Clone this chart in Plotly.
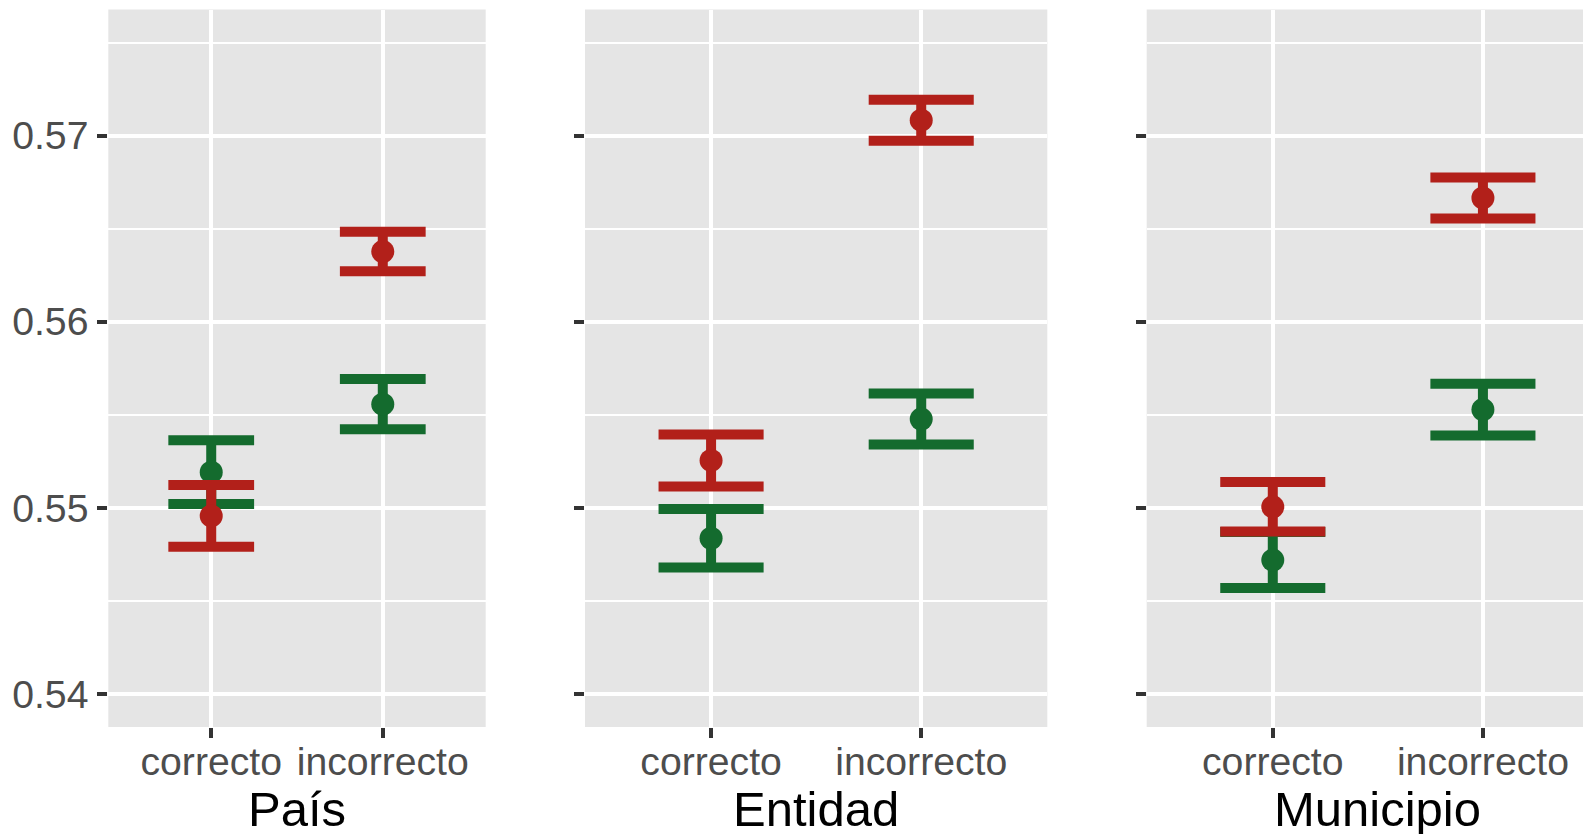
import plotly.graph_objects as go

# ---- data ----
categories = ["correcto", "incorrecto"]
panels = ["País", "Entidad", "Municipio"]

green_mean = {
    "País": [0.55192, 0.55557],
    "Entidad": [0.54837, 0.55477],
    "Municipio": [0.54720, 0.55528],
}
green_err = {
    "País": [0.00171, 0.00135],
    "Entidad": [0.00157, 0.00137],
    "Municipio": [0.00150, 0.00139],
}
red_mean = {
    "País": [0.54957, 0.56377],
    "Entidad": [0.55255, 0.57083],
    "Municipio": [0.55006, 0.56665],
}
red_err = {
    "País": [0.00166, 0.00106],
    "Entidad": [0.00140, 0.00110],
    "Municipio": [0.00133, 0.00110],
}
y_ticks = [0.54, 0.55, 0.56, 0.57]
y_ticktext = ["0.54", "0.55", "0.56", "0.57"]

# ---- style ----
W, H = 1591, 834
OFF = 8  # page body margin offset
RED = "#B2201A"
GREEN = "#146B2E"
PANEL_BG = "#E5E5E5"
FONT = "Liberation Sans, Arial, Helvetica, sans-serif"

# panel pixel extents in page coords (left, right)
px_extent = [(108.3, 485.7), (585.0, 1047.3), (1146.7, W + OFF)]
full_width = [377.4, 462.3, 462.3]
y_top, y_bot = 9.6 - OFF, 727.0 - OFF
y_range = [0.53823, 0.57677]

fig = go.Figure()

for i, p in enumerate(panels):
    xa = "x" if i == 0 else f"x{i+1}"
    ya = "y" if i == 0 else f"y{i+1}"
    unit_px = full_width[i] / 2.2
    cap = 0.25 * unit_px
    for mean, err, col in ((green_mean, green_err, GREEN), (red_mean, red_err, RED)):
        fig.add_trace(go.Scatter(
            x=categories, y=mean[p], xaxis=xa, yaxis=ya, mode="markers",
            marker=dict(color=col, size=23, line=dict(width=0)),
            error_y=dict(type="data", array=err[p], color=col, thickness=10, width=cap),
            showlegend=False, hoverinfo="skip",
        ))

    l, r = px_extent[i]
    l, r = l - OFF, r - OFF
    xr_end = -0.6 + (r - l) / unit_px
    axis_common = dict(showline=False, zeroline=False, ticks="outside", ticklen=10,
                       tickwidth=4, tickcolor="#333333",
                       gridcolor="white", gridwidth=3.5)
    fig.layout[("xaxis" if i == 0 else f"xaxis{i+1}")] = dict(
        axis_common, domain=[l / W, r / W], anchor=ya, type="category",
        categoryorder="array", categoryarray=categories, range=[-0.6, xr_end],
        tickfont=dict(family=FONT, size=39.2, color="#4D4D4D"), ticklabelstandoff=-10,
    )
    fig.layout[("yaxis" if i == 0 else f"yaxis{i+1}")] = dict(
        axis_common, domain=[1 - y_bot / H, 1 - y_top / H], anchor=xa, range=y_range,
        tickvals=y_ticks, ticktext=y_ticktext, showticklabels=(i == 0),
        tickfont=dict(family=FONT, size=39.2, color="#4D4D4D"), ticklabelstandoff=1,
        minor=dict(tickvals=[0.545, 0.555, 0.565, 0.575], showgrid=True,
                   gridcolor="white", gridwidth=1.8, ticks=""),
    )
    fig.add_annotation(text=p, x=(l + full_width[i] / 2) / W, y=1 - (809 - OFF) / H,
                       xref="paper", yref="paper", xanchor="center", yanchor="middle",
                       showarrow=False, font=dict(family=FONT, size=49, color="black"))

    fig.add_shape(type="rect", xref="paper", yref="paper", layer="below",
                  x0=l / W, x1=r / W, y0=1 - y_bot / H, y1=1 - y_top / H,
                  fillcolor=PANEL_BG, line=dict(width=0))

fig.update_layout(width=W, height=H, margin=dict(l=0, r=0, t=0, b=0),
                  paper_bgcolor="white", plot_bgcolor="rgba(0,0,0,0)")

fig.write_html("out.html")
